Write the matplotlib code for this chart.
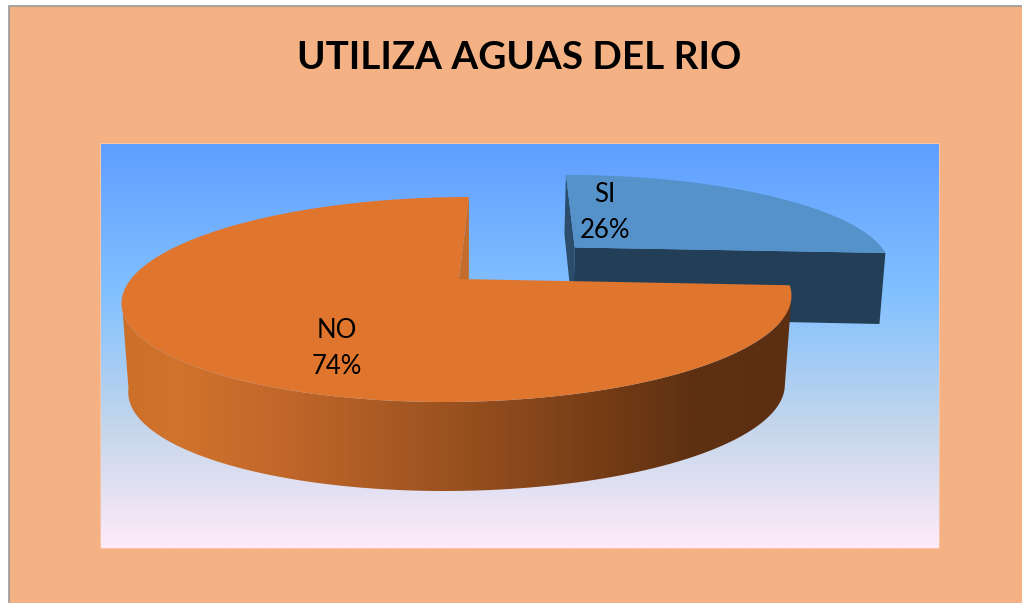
import numpy as np
import matplotlib
matplotlib.use("Agg")
import matplotlib.pyplot as plt
from matplotlib.colors import LinearSegmentedColormap
from matplotlib.patches import Polygon, Rectangle

title = "UTILIZA AGUAS DEL RIO"
labels = ["SI", "NO"]
shares = [26, 74]
explode = [0.5, 0]

# colours
peach = "#f4b183"
si_top = "#5592c9"
si_front = "#233f57"
si_inner = "#2b4c6a"
no_top = "#e0752d"
no_inner = "#c46c2c"
bg_stops = [(0, "#5e9eff"), (0.39, "#85c2ff"), (0.70, "#c4d6eb"), (1, "#ffebfa")]
wall_stops = [(0, "#cc7029"), (0.08, "#d0732c"), (0.25, "#c0662a"), (0.5, "#99511f"),
              (0.72, "#753c16"), (0.85, "#5f3112"), (1, "#5c2f12")]

# how the flat pie circle lands on the page (3d look)
cx, cy = 459, 279
a, b, shear, k = 328, 98.4, 12, 0.2


def project(X, Y, drop=0, far_drop=0, shrink=1.0):
    s = 1 / (1 + k * np.asarray(Y, dtype=float))
    x = cx + (a * np.asarray(X) + shear * np.asarray(Y)) * s * shrink
    y = cy - b * np.asarray(Y) * s + drop + far_drop * s
    return np.column_stack([x, y])


def wedge_xy(t0, t1, off_x, off_y):
    t = np.radians(np.linspace(t0, t1, 200))
    return off_x + np.cos(t), off_y + np.sin(t)


fig = plt.figure(figsize=(10.22, 6.03), dpi=100, facecolor="white")
ax = fig.add_axes([0, 0, 1, 1])
ax.axis("off")

# chart frame and plot area
ax.add_patch(Rectangle((8.5, 5.5), 1030, 620, fc=peach, ec="#999999", lw=1.2, zorder=1))
bg = LinearSegmentedColormap.from_list("bg", bg_stops)
ax.imshow(np.linspace(0, 1, 256).reshape(-1, 1), cmap=bg, extent=(100, 939, 548, 143),
          aspect="auto", zorder=2)
ax.add_patch(Rectangle((100, 143), 839, 405, fc="none", ec="#f7c4a5", lw=0.8, zorder=2.5))

# angles come from the shares, NO runs counterclockwise from the top
no_end = 90 + 360 * shares[1] / 100
si_mid = np.radians((no_end + 450) / 2)
ox = explode[0] * np.cos(si_mid)
oy = explode[0] * np.sin(si_mid)

# SI slice, pulled out
X, Y = wedge_xy(no_end, 450, ox, oy)
si_arc = project(X, Y)
si_d = 75
apex = project([ox], [oy])
apex_low = project([ox], [oy], far_drop=si_d, shrink=0.986)
arc_low = project(X, Y, far_drop=si_d, shrink=0.986)
ax.add_patch(Polygon(np.vstack([si_arc[-1], apex, apex_low, arc_low[-1]]), fc=si_inner, ec="none", zorder=3))
ax.add_patch(Polygon(np.vstack([apex, si_arc[0], arc_low[0], apex_low]), fc=si_front, ec="none", zorder=3.1))
ax.add_patch(Polygon(np.vstack([apex, si_arc]), fc=si_top, ec="none", zorder=3.2))

# NO slice
no_d = 89
X, Y = wedge_xy(90, no_end, 0, 0)
no_arc = project(X, Y)
no_apex = project([0], [0])
no_low = project(X, Y, drop=no_d, shrink=0.98)
inner = np.vstack([no_arc[0], no_apex, no_apex + [0, no_d], no_low[0]])
ax.add_patch(Polygon(inner, fc=no_inner, ec="none", zorder=4))

# outer wall, gradient clipped to the band between the two rims
# the band runs between the leftmost and rightmost points of the rim
side = np.degrees(np.arcsin(k))
Xw, Yw = wedge_xy(180 + side, 360 - side, 0, 0)
top_rim = project(Xw, Yw)
low_rim = project(Xw, Yw, drop=no_d, shrink=0.98)
wall = Polygon(np.vstack([top_rim, low_rim[::-1]]), fc="none", ec="none", transform=ax.transData)
ax.add_patch(wall)
wall_map = LinearSegmentedColormap.from_list("wall", wall_stops)
im = ax.imshow(np.linspace(0, 1, 512).reshape(1, -1), cmap=wall_map, extent=(122, 791, 500, 200),
               aspect="auto", zorder=4.1)
im.set_clip_path(wall)
ax.add_patch(Polygon(np.vstack([no_apex, no_arc]), fc=no_top, ec="none", zorder=4.2))

ax.set_xlim(0, 1022)
ax.set_ylim(603, 0)

# text
ax.text(519, 57.5, title, ha="center", va="center", fontsize=27.8, fontweight="bold",
        family="Lato", color="black", zorder=6)
ax.text(605, 195, labels[0], ha="center", va="center", fontsize=18.5, family="Lato", zorder=6)
ax.text(605, 231, f"{shares[0]}%", ha="center", va="center", fontsize=18.5, family="Lato", zorder=6)
ax.text(337, 330, labels[1], ha="center", va="center", fontsize=18.5, family="Lato", zorder=6)
ax.text(337, 366, f"{shares[1]}%", ha="center", va="center", fontsize=18.5, family="Lato", zorder=6)

fig.savefig("out.png", dpi=100)
